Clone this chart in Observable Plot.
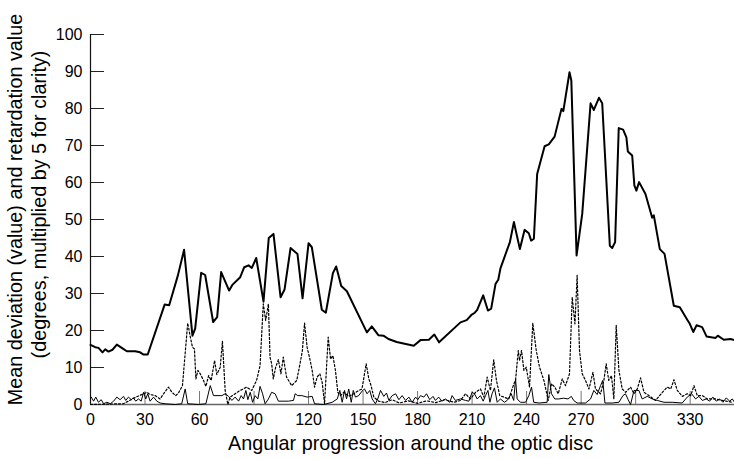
<!DOCTYPE html>
<html>
<head>
<meta charset="utf-8">
<script src="https://cdn.jsdelivr.net/npm/d3@7"></script>
<script src="https://cdn.jsdelivr.net/npm/@observablehq/plot@0.6"></script>
<style>
  html, body { margin: 0; padding: 0; background: #fff; }
  #chart svg { display: block; }
</style>
</head>
<body>
<div id="chart"></div>
<script>
// Angle (degrees) and value pairs
const meanDeviation = [
  [0,16.1],[2.6,15.5],[4.4,15.3],[6.6,14.1],[8.1,14.9],[9.9,14.3],[12.1,14.8],[14.5,16.2],[17.2,15.3],[20,14.4],
  [24.6,14.4],[27.3,14.1],[29.2,13.5],[31.5,13.5],[40.8,27.0],[43.3,26.8],[48.1,34.9],[51.5,41.8],[56.1,18.6],[57.6,20.5],
  [60.9,35.6],[63.1,35.0],[67.5,22.3],[69.7,23.6],[71.9,35.8],[76.3,30.8],[78.2,32.4],[82.4,34.4],[84.6,37.1],[87.0,37.6],
  [88.8,36.9],[91.2,39.6],[95.2,27.8],[98.1,45.0],[100.7,46.1],[104.6,29.0],[106.8,31.1],[110.1,42.3],[113.9,40.7],[116.7,28.7],
  [120.0,43.6],[121.8,42.5],[127.3,25.6],[129.5,24.8],[133.4,35.5],[135.2,37.3],[138.0,32.0],[141.1,30.6],[152.1,19.5],[154.8,21.1],
  [158.5,18.7],[161.2,18.6],[164,17.7],[168.5,16.9],[177.9,15.9],[181.6,17.4],[186.2,17.5],[189.2,18.9],[191.8,16.8],[203.6,22.2],
  [207,22.8],[209.6,24.2],[211.5,24.8],[212.8,25.6],[216.1,29.5],[218.7,25.4],[220.5,25.9],[222.9,32.6],[224.4,33.7],[225.6,36.8],
  [230.8,43.9],[233,49.3],[236.3,42],[238.9,47.2],[241.2,46.3],[242.5,44.3],[244,44.8],[245.8,62.3],[249.9,69.8],[252.2,70.3],
  [255.4,72.4],[259.2,79.9],[260.2,79.3],[263.6,89.8],[264.6,87.6],[267.5,40.3],[270.6,51.5],[275.2,81.4],[277,79.6],[279.8,82.9],
  [281.6,81.4],[285.8,42.9],[287.1,42.3],[288.7,43.9],[290.7,74.7],[293.1,74.3],[294.9,72.2],[295.7,68.4],[298.1,67.3],[299.3,59.2],
  [300.4,57.8],[301.9,60.1],[305.4,56.9],[309.1,50.5],[310,51.1],[313.3,42],[315.9,40.7],[321,26.7],[324.3,26.3],[328.4,22.9],
  [329.8,21.8],[331.7,19.6],[333.5,21.4],[336.6,20.9],[339,18.4],[344,18],[345.2,18.6],[348.5,17.5],[352.2,17.7],[354.4,17.4]
];

const retardation = [
  [0,0],[18,0.2],[22,1.2],[25,2.0],[28.3,2.7],[31.0,3.3],[32.8,2.7],[35.6,2.4],[38.3,1.5],[40.2,2.9],[42.9,4.7],[44.8,3.3],
  [46.9,2.4],[48.4,3.1],[50.6,5.1],[53.5,22.0],[54.8,18.6],[56.1,15.5],[57.2,15.0],[58.0,6.9],[59.1,9.2],[60.4,8.3],
  [62.2,6.5],[63.5,4.9],[65.0,7.8],[66.4,6.5],[68.3,11.9],[69.5,8.1],[71.4,10.1],[72.6,17.1],[74.1,3.8],[75.6,0],
  [76.8,2.0],[79.6,2.9],[82.3,3.8],[84.1,4.2],[85.9,4.7],[88.7,3.8],[91.4,6.5],[93.3,10.5],[95.1,27.2],[96.4,22.7],
  [97.9,27.2],[98.8,12.8],[99.7,11.0],[100.6,6.9],[101.9,10.1],[103.4,12.1],[104.8,8.3],[106.1,12.8],[107.9,7.4],[110.7,5.1],
  [113.5,6.5],[115.3,11.0],[116.6,14.6],[117.8,22.0],[119.2,15.5],[120.7,12.3],[122,9.2],[123.3,4.7],[124.7,7.4],[126.2,8.3],
  [127.5,6.0],[128.8,0.2],[130.8,18.2],[132.1,12.3],[133.4,13.2],[134.8,9.2],[136.1,3.3],[137.6,2.4],[139.4,3.3],[142.1,2.2],
  [144.9,2.9],[147.6,3.8],[149.4,4.2],[151.7,11.0],[153.2,6.9],[154.4,5.1],[155.9,2.0],[158.6,0.9],[162,0.5],[166,1.3],
  [170,0.4],[175,1.0],[180,0.3],[185,1.0],[190,0.5],[195,1.3],[200,0.6],[203.6,1.1],[206.4,2.9],[209.1,1.5],
  [211.9,3.3],[214.6,4.2],[216.5,2.0],[218.3,7.4],[220.1,3.8],[221.9,12.1],[223.4,6.5],[225.2,2.4],[227.5,2.0],[230.2,1.5],
  [233.0,5.6],[233.9,6.5],[235.4,14.6],[236.1,11.9],[237.2,14.6],[238.5,9.2],[239.8,10.1],[241.6,4.7],[243.4,22.0],[245.3,14.6],
  [247.1,10.1],[249.5,6.5],[251.9,1.1],[253.7,5.6],[255.5,4.7],[257.4,2.9],[259.6,6.9],[261.4,5.1],[263.6,8.3],[265.1,29.0],
  [266.6,21.8],[267.8,34.9],[269.1,14.6],[270.6,8.3],[272.4,6.5],[274.3,4.2],[276.5,8.7],[277.9,4.2],[280.7,2.9],[282.5,6.5],
  [283.8,11.0],[285.2,6.5],[286.7,7.8],[288.0,1.5],[289.3,21.4],[290.8,9.2],[292.6,4.2],[294.5,3.3],[297.2,4.7],[299.1,2.9],
  [300.9,4.2],[302.7,7.2],[304.6,3.3],[307.3,2.4],[311.0,1.1],[314.7,3.3],[317.4,4.7],[319.3,4.2],[321.1,6.7],[322.9,3.8],
  [325.7,2.2],[328.4,2.9],[330.3,2.4],[332.1,5.1],[333.9,2.4],[336.7,2.4],[339.4,1.5],[344.0,1.5],[347.7,1.1],[353.2,0.6]
];

const lowerSeries = [
  [0.4,2.0],[1.7,0.9],[2.9,2.0],[4.4,0.6],[5.9,1.3],[7.2,0.2],[9.0,0.6],[10.9,0.2],[12.7,0.9],[14.5,2.0],
  [16.3,1.3],[18.2,2.2],[19.4,1.1],[20.9,2.0],[22.4,1.3],[23.6,1.8],[24.9,0.9],[26.4,1.5],[27.9,0.9],[29.2,3.3],
  [30.4,1.5],[31.5,2.9],[32.8,0.9],[34.7,2.0],[36.5,0.9],[38.3,0.4],[41.1,0.2],[46.6,0],[50.2,0.2],[52.1,4.2],
  [53.5,0.2],[59.5,0],[63.5,0.2],[65.9,5.1],[67.7,2.4],[72.3,2.4],[74.1,2.9],[76.0,2.2],[77.8,1.1],[79.6,2.0],
  [81.5,0.9],[82.9,2.4],[84.2,1.5],[85.5,3.8],[86.6,1.3],[87.9,3.3],[89.2,0.6],[90.6,2.4],[92.1,1.5],[93.3,4.9],
  [94.7,2.9],[96.1,0.2],[97.9,1.5],[99.7,3.3],[101.6,2.9],[103.4,0.9],[108.9,0.9],[111.7,1.1],[112.6,2.9],[114.1,2.4],
  [116.3,2.4],[119.2,2.0],[122,2.2],[123.3,0.2],[128.4,0],[133,0.6],[135.8,1.5],[137.2,3.8],[138.5,0.6],[139.8,3.8],
  [140.9,1.5],[142.1,4.2],[143.5,0.6],[144.6,3.8],[145.8,2.0],[147.6,2.4],[149.4,3.6],[150.8,4.2],[152.2,2.9],[153.7,3.8],
  [155,1.5],[156.8,0.2],[158.1,1.5],[159.6,3.8],[161.4,2.2],[162.9,3.1],[164.2,1.1],[166,2.4],[167.9,2.9],[169.7,1.3],
  [171.5,2.4],[173.4,1.1],[175.2,2.0],[177,0.6],[178.9,2.0],[180.1,1.3],[181.6,2.4],[183.4,2.0],[184.9,2.9],[186.7,1.3],
  [188.5,2.2],[189.8,1.1],[191.6,2.0],[193.4,0.9],[195.3,1.5],[197.7,0.6],[199,2.4],[200.8,1.1],[203.6,1.5],[206.4,1.1],
  [208.2,0.9],[210,3.3],[211.3,2.9],[212.8,1.5],[214.6,2.4],[216.1,0.9],[217.4,2.4],[218.7,3.8],[219.8,0.6],[221,2.9],
  [222.3,4.5],[223.8,0.6],[225.6,1.5],[227.8,0.6],[229.3,1.1],[231.5,2.9],[232.9,1.1],[233.9,6.9],[234.8,1.5],[236.6,0.6],
  [239.4,0.6],[241.2,2.4],[242.7,4.7],[243.9,0.6],[246.8,0.4],[251.3,0.6],[252.2,8.1],[253.7,2.9],[255.5,1.5],[257.7,1.5],
  [260.4,1.7],[262.8,1.5],[264.6,2.2],[265.9,1.1],[267.8,0.4],[272.4,0.4],[275.2,1.5],[277.0,3.8],[278.8,2.7],[280.7,5.1],
  [281.9,6.5],[283.1,0.4],[287.1,0.4],[290.8,0.6],[293.0,2.4],[294.4,2.9],[295.9,1.3],[297.2,0],[299.1,3.8],[301.8,3.8],
  [303.6,1.5],[306.4,2.2],[309.1,1.5],[311.9,1.1],[315.6,0.6],[320.1,0.6],[325.6,0.4],[328.4,2.0],[330.8,2.9],[333,1.5],
  [334.8,2.2],[336.7,1.1],[338.9,1.5],[340.7,0.9],[342.5,2.0],[344.4,0.9],[346.2,1.5],[348.0,0.6],[349.9,1.8],[351.7,0.9],
  [353.2,1.5],[354.4,0.6]
];

const xTicks = [0, 30, 60, 90, 120, 150, 180, 210, 240, 270, 300, 330];
const yTicks = [0, 10, 20, 30, 40, 50, 60, 70, 80, 90, 100];
const xTitle = "Angular progression around the optic disc";
const yTitleLines = ["Mean deviation (value) and retardation value", "(degrees, multiplied by 5 for clarity)"];

const font = "'Liberation Sans', Arial, Helvetica, sans-serif";

const chart = Plot.plot({
  width: 734,
  height: 459,
  marginTop: 34,
  marginBottom: 55,
  marginLeft: 90,
  marginRight: 0,
  style: { fontFamily: font, fontSize: "16px", background: "#fff", color: "#000" },
  x: { domain: [0, 354.4] },
  y: { domain: [0, 100] },
  marks: [
    Plot.axisY({ ticks: yTicks, tickSize: -14, tickPadding: 22, label: null, fontSize: 16, stroke: "#222" }),
    Plot.axisX({ ticks: xTicks, tickSize: -13, tickPadding: 22, label: null, fontSize: 16, stroke: "#777" }),
    Plot.ruleX([0], { stroke: "#111", strokeWidth: 1.2 }),
    Plot.ruleY([0], { stroke: "#666", strokeWidth: 1.5 }),
    Plot.line(lowerSeries, { x: d => d[0], y: d => d[1], stroke: "#000", strokeWidth: 1 }),
    Plot.line(retardation, { x: d => d[0], y: d => d[1], stroke: "#000", strokeWidth: 1.2, strokeDasharray: "2,2" }),
    Plot.line(meanDeviation, { x: d => d[0], y: d => d[1], stroke: "#000", strokeWidth: 2 }),
    Plot.text([xTitle], { frameAnchor: "bottom", dx: -2, dy: 45, fontSize: 19.8, fill: "#000" }),
    Plot.text([yTitleLines[0]], { frameAnchor: "left", textAnchor: "middle", dx: -75, dy: -10, rotate: -90, fontSize: 19.8, fill: "#000" }),
    Plot.text([yTitleLines[1]], { frameAnchor: "left", textAnchor: "middle", dx: -51, dy: -15, rotate: -90, fontSize: 19.8, fill: "#000" })
  ]
});

document.getElementById("chart").appendChild(chart);
</script>
</body>
</html>
